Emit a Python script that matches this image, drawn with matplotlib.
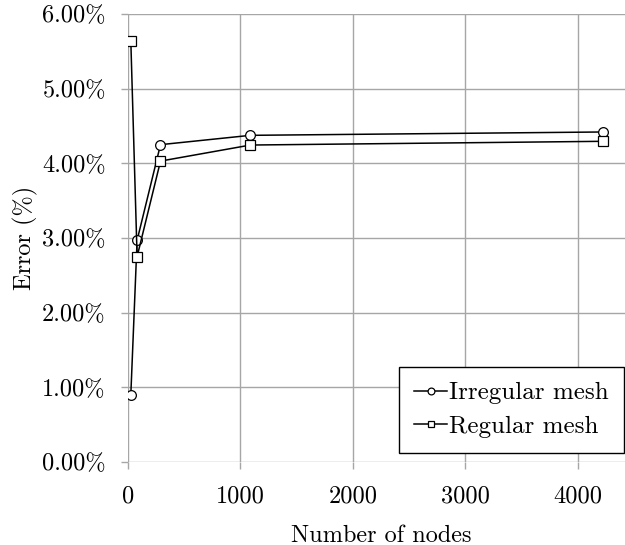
import matplotlib
matplotlib.use('Agg')
import matplotlib.pyplot as plt

# mesh sizes and errors (%)
nodes = [25, 81, 289, 1089, 4225]
err_irregular = [0.90, 2.97, 4.25, 4.375, 4.42]
err_regular = [5.64, 2.75, 4.03, 4.245, 4.295]
x_ticks = [0, 1000, 2000, 3000, 4000]
y_ticks = [0, 1, 2, 3, 4, 5, 6]

plt.rcParams['font.family'] = 'cmr10'
plt.rcParams['mathtext.fontset'] = 'cm'
plt.rcParams['axes.unicode_minus'] = False
fs = 17.5

fig = plt.figure(figsize=(6.25, 5.45), dpi=100)
W, H = 625, 545
ax = fig.add_axes([128 / W, 1 - 462 / H, (634 - 128) / W, (462 - 14) / H])

ax.plot(nodes, err_irregular, color='black', lw=1.1, marker='o', ms=7,
        mfc='white', mec='black', mew=0.9, label='Irregular mesh')
ax.plot(nodes, err_regular, color='black', lw=1.1, marker='s', ms=6.5,
        mfc='white', mec='black', mew=0.9, label='Regular mesh')

ax.set_xlim(0, 4500)
ax.set_ylim(0, 6)
ax.set_xticks(x_ticks)
ax.set_yticks(y_ticks)
ax.set_xticklabels([str(v) for v in x_ticks], fontsize=fs)
ax.set_yticklabels([f'{v:.2f}%' for v in y_ticks], fontsize=fs)

for s in ax.spines.values():
    s.set_visible(False)
ax.grid(True, color='#a6a6a6', lw=1.0)
ax.set_axisbelow(True)
ax.tick_params(axis='both', direction='out', length=5, width=1.0,
               color='#a6a6a6')
ax.tick_params(axis='x', pad=12)
ax.tick_params(axis='y', pad=11)

ax.set_xlabel('Number of nodes', fontsize=fs, labelpad=12)
ax.set_ylabel('Error (%)', fontsize=fs, labelpad=3)

leg = ax.legend(loc='lower right', bbox_to_anchor=(624 / W, 1 - 453 / H),
                bbox_transform=fig.transFigure, borderaxespad=0,
                prop={'size': 18}, fancybox=False, framealpha=1,
                edgecolor='black', handlelength=1.35, handletextpad=0.08,
                labelspacing=0.45, borderpad=0.6, markerscale=0.7)
leg.get_frame().set_linewidth(1.0)

fig.savefig('out.png', dpi=100)
